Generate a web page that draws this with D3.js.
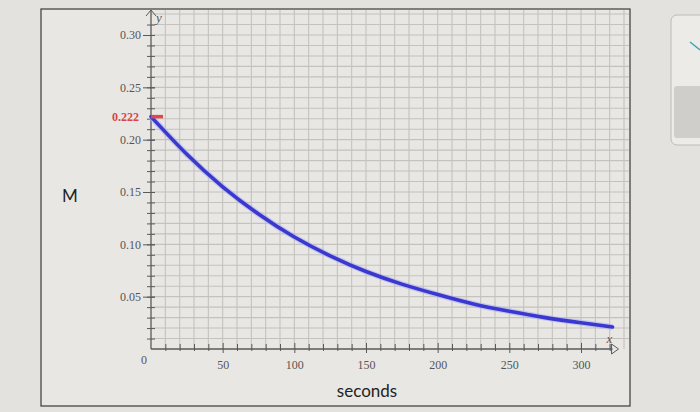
<!DOCTYPE html>
<html><head><meta charset="utf-8">
<script src="https://cdn.jsdelivr.net/npm/d3@7"></script>
<style>
html,body{margin:0;padding:0;background:#e3e2df;}
svg{display:block;}
</style></head>
<body>
<svg id="chart" width="700" height="412"></svg>
<script>
// ---- data ----
const seconds = [0, 25, 50, 75, 100, 125, 150, 175, 200, 225, 250, 275, 300, 322];
const massM   = [0.222, 0.186, 0.155, 0.129, 0.107, 0.089, 0.074, 0.062, 0.052, 0.043, 0.036, 0.030, 0.025, 0.021];
const xTickValues = [50, 100, 150, 200, 250, 300];
const yTickValues = [0.05, 0.10, 0.15, 0.20, 0.25, 0.30];
const markedValue = 0.222;
const xLabel = "seconds";
const yLabel = "M";

const svg = d3.select("#chart");
const W = 700, H = 412;

// frame
const box = {x0: 41, y0: 9, x1: 630, y1: 406};
svg.append("rect").attr("x",0).attr("y",0).attr("width",W).attr("height",H).attr("fill","#e3e2df");
svg.append("rect").attr("x",box.x0).attr("y",box.y0).attr("width",box.x1-box.x0).attr("height",box.y1-box.y0)
  .attr("fill","#e8e7e4").attr("stroke","#3a3a3a").attr("stroke-width",1.2);

// side UI fragment
svg.append("rect").attr("x",671).attr("y",15).attr("width",40).attr("height",130).attr("rx",6)
  .attr("fill","#ecebe8").attr("stroke","#bdbcb9");
svg.append("rect").attr("x",674).attr("y",86).attr("width",40).attr("height",52).attr("rx",3).attr("fill","#cfcecb");
svg.append("path").attr("d","M690,42 L700,50").attr("stroke","#3aa7a9").attr("stroke-width",1.5).attr("fill","none");

// scales
const x = d3.scaleLinear().domain([0, 300]).range([151, 581]);
const y = d3.scaleLinear().domain([0, 0.30]).range([349, 35]);

// grid
const grid = svg.append("g").attr("stroke","#c4c2be").attr("stroke-width",1.1);
d3.range(10, 340, 10).forEach(v => {
  const px = x(v);
  if (px < box.x1 - 2) grid.append("line").attr("x1",px).attr("x2",px).attr("y1",box.y0+1).attr("y2",y(0));
});
d3.range(1, 33, 1).forEach(i => {
  const py = y(i/100);
  if (py > box.y0 + 2) grid.append("line").attr("x1",x(0)).attr("x2",box.x1-1).attr("y1",py).attr("y2",py);
});

// axes
const axisColor = "#5a5a5a";
const labelFont = "'Liberation Serif','DejaVu Serif',serif";

// y axis minor ticks
const yMinor = d3.axisLeft(y).tickValues(d3.range(1, 32).map(i => i/100)).tickSize(4).tickFormat("");
const gyMinor = svg.append("g").attr("transform",`translate(${x(0)+4},0)`).call(yMinor);
gyMinor.select(".domain").remove();
gyMinor.selectAll("line").attr("stroke",axisColor).attr("x2",-8);

// y axis major
const yAxis = d3.axisLeft(y).tickValues(yTickValues).tickSize(12).tickPadding(2).tickFormat(d3.format(".2f"));
const gy = svg.append("g").attr("transform",`translate(${x(0)+4},0)`).call(yAxis);
gy.select(".domain").remove();
gy.selectAll("line").attr("stroke",axisColor);
gy.selectAll("text").attr("font-family",labelFont).attr("font-size",12).attr("fill","#555");
svg.append("line").attr("x1",x(0)).attr("x2",x(0)).attr("y1",y(0)).attr("y2",box.y0+1)
  .attr("stroke",axisColor).attr("stroke-width",1.3);
// y arrow
svg.append("path").attr("d",`M${x(0)-5},${box.y0+7} L${x(0)},${box.y0+1} L${x(0)+5},${box.y0+7}`)
  .attr("fill","none").attr("stroke",axisColor).attr("stroke-width",1);
svg.append("text").attr("x",x(0)+5).attr("y",box.y0+13).text("y")
  .attr("font-family",labelFont).attr("font-style","italic").attr("font-size",13).attr("fill","#555");

// x axis minor ticks
const xEnd = x(322);
const xMinor = d3.axisBottom(x).tickValues(d3.range(10, 330, 10).filter(v => v % 50 !== 0)).tickSize(5).tickFormat("");
const gxMinor = svg.append("g").attr("transform",`translate(0,${y(0)+2})`).call(xMinor);
gxMinor.select(".domain").remove();
gxMinor.selectAll("line").attr("stroke",axisColor).attr("y2",-7);

const xAxis = d3.axisBottom(x).tickValues(xTickValues).tickSize(4).tickPadding(7).tickFormat(d3.format("d"));
const gx = svg.append("g").attr("transform",`translate(0,${y(0)})`).call(xAxis);
gx.select(".domain").remove();
gx.selectAll("line").attr("stroke",axisColor).attr("y1",-6);
gx.selectAll("text").attr("font-family",labelFont).attr("font-size",12).attr("fill","#555");
svg.append("line").attr("x1",x(0)).attr("x2",xEnd).attr("y1",y(0)).attr("y2",y(0))
  .attr("stroke",axisColor).attr("stroke-width",1.3);
// x arrow
svg.append("path").attr("d",`M${xEnd-1},${y(0)-5} L${xEnd+6},${y(0)} L${xEnd-1},${y(0)+5} Z`)
  .attr("fill","none").attr("stroke",axisColor).attr("stroke-width",1);
svg.append("text").attr("x",xEnd-6).attr("y",y(0)-6).text("x")
  .attr("font-family",labelFont).attr("font-style","italic").attr("font-size",13).attr("fill","#555");

// origin label
svg.append("text").attr("x",x(0)-4).attr("y",y(0)+15).attr("text-anchor","end").text("0")
  .attr("font-family",labelFont).attr("font-size",12).attr("fill","#555");

// curve
const pts = seconds.map((s,i) => [s, massM[i]]);
const line = d3.line().x(d => x(d[0])).y(d => y(d[1])).curve(d3.curveNatural);
svg.append("path").datum(pts).attr("d",line).attr("fill","none")
  .attr("stroke","#aeb0f0").attr("stroke-width",6).attr("stroke-opacity",0.6);
svg.append("path").datum(pts).attr("d",line).attr("fill","none")
  .attr("stroke","#3a38cf").attr("stroke-width",3.6).attr("stroke-linecap","round");

// marked starting value
svg.append("line").attr("x1",x(0)).attr("x2",x(0)+12).attr("y1",y(markedValue)).attr("y2",y(markedValue))
  .attr("stroke","#e04848").attr("stroke-width",3.5);
svg.append("text").attr("x",x(0)-12).attr("y",y(markedValue)+4).attr("text-anchor","end")
  .text(d3.format(".3f")(markedValue))
  .attr("font-family",labelFont).attr("font-weight","bold").attr("font-size",12).attr("fill","#d84646");

// axis titles
svg.append("text").attr("x",70).attr("y",202).attr("text-anchor","middle").text(yLabel)
  .attr("font-family","Lato, 'Open Sans', sans-serif").attr("font-size",17).attr("fill","#222");
svg.append("text").attr("x",367).attr("y",397).attr("text-anchor","middle").text(xLabel)
  .attr("font-family","Lato, 'Open Sans', sans-serif").attr("font-size",17).attr("fill","#222");
</script>
</body></html>
